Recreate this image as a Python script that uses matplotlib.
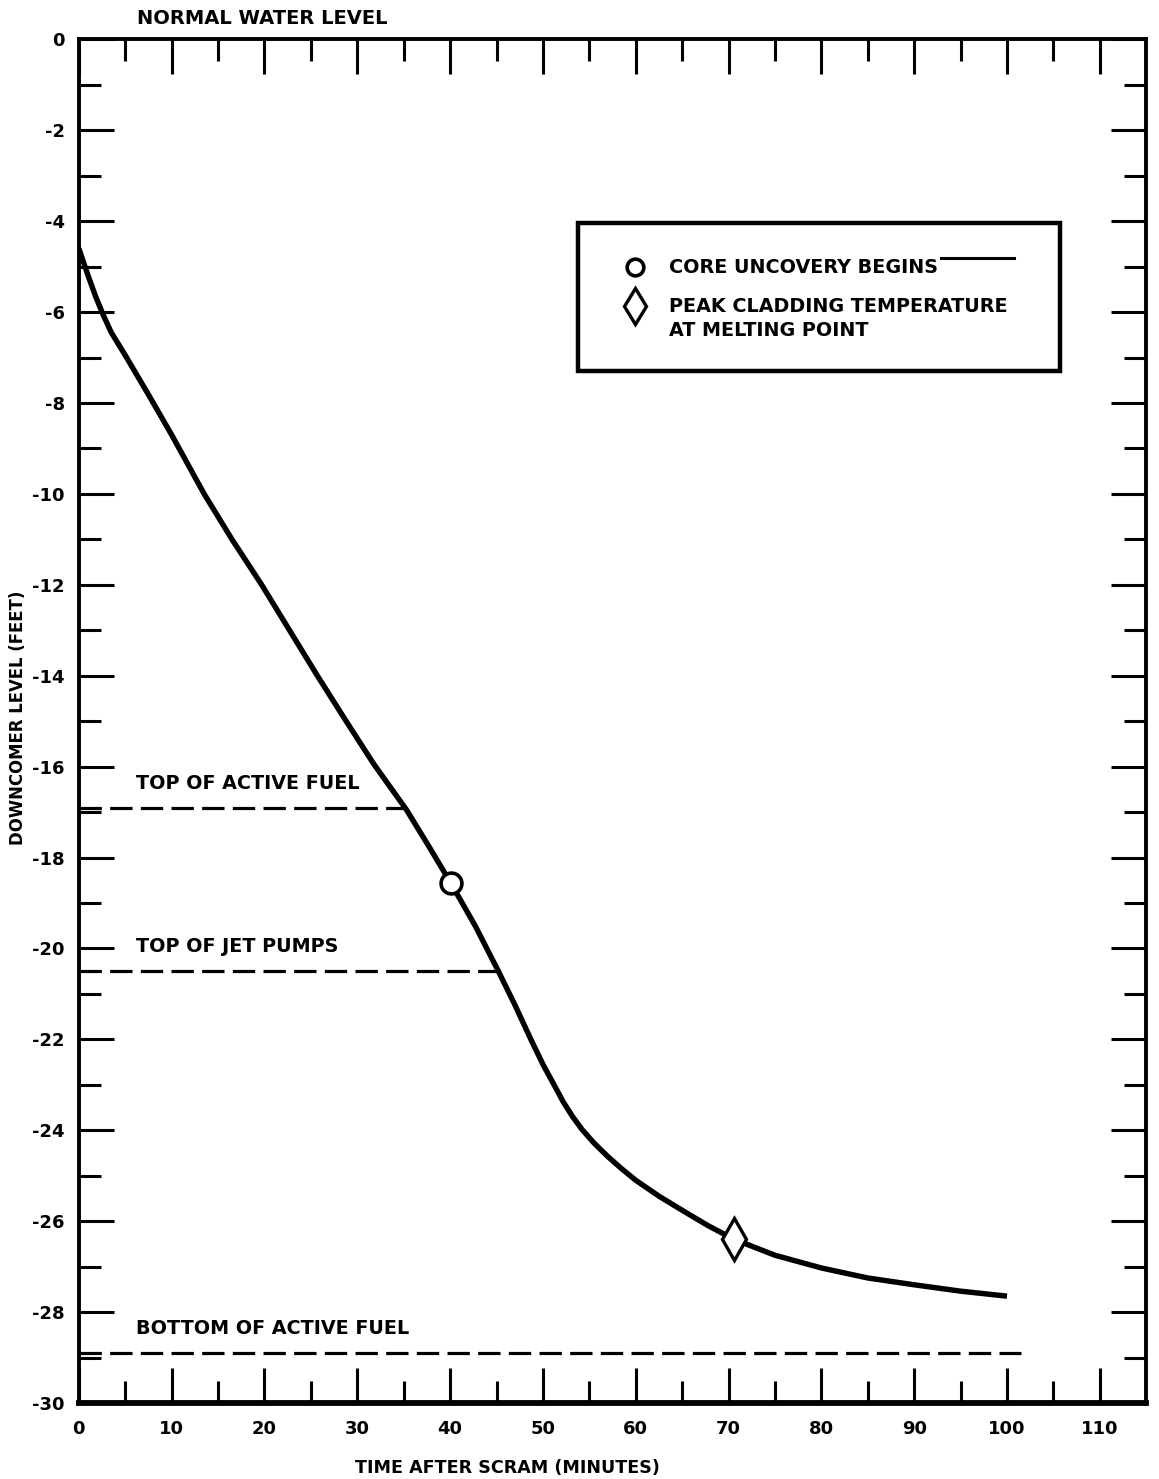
import matplotlib
matplotlib.use('Agg')
import matplotlib.pyplot as plt
from matplotlib.patches import Rectangle
import numpy as np

font = {'family': 'DejaVu Sans',
        'weight': 'bold',
        'size': 13}
matplotlib.rc("font", **font)

# downcomer level curve
time_min = [0, 0.5, 1, 1.8, 2.6, 3.5, 5, 6.3, 7.6, 10, 13.5, 16.5, 19.7, 22.7, 25.7,
            28.8, 31.8, 35.3, 37.7, 40.1, 42.7, 45.2, 47, 48.7, 50, 51.2, 52.2, 53.2,
            54.2, 55.5, 57, 58.5, 60, 62.5, 65, 67.8, 70.6, 75, 80, 85, 90, 95, 100]
level_ft = [-4.6, -4.9, -5.2, -5.65, -6.05, -6.45, -6.95, -7.4, -7.85, -8.7, -10.0,
            -11.0, -12.0, -13.0, -14.0, -15.0, -15.95, -16.95, -17.75, -18.57, -19.5,
            -20.5, -21.25, -22.0, -22.55, -23.0, -23.38, -23.7, -23.98, -24.28,
            -24.58, -24.85, -25.1, -25.45, -25.76, -26.1, -26.4, -26.75, -27.03,
            -27.25, -27.4, -27.54, -27.65]

core_uncovery = (40.1, -18.57)
peak_clad = (70.6, -26.4)

# reference levels: name, level, end time
ref_names = ['TOP OF ACTIVE FUEL', 'TOP OF JET PUMPS', 'BOTTOM OF ACTIVE FUEL']
ref_levels = [-16.92, -20.5, -28.9]
ref_ends = [35.4, 45.3, 101.5]

xticks = np.arange(0, 111, 10)
yticks = np.arange(0, -31, -2)

fig = plt.figure(figsize=(11.59, 14.79), dpi=100)
ax = fig.add_axes([0.068, 0.0514, 0.921, 0.922])

ax.plot(time_min, level_ft, color='k', lw=3.9, solid_joinstyle='round',
        solid_capstyle='butt', zorder=3)
ax.plot(*core_uncovery, marker='o', ms=15, mfc='white', mec='k', mew=2.6, zorder=4)
ax.plot(*peak_clad, marker='d', ms=21, mfc='white', mec='k', mew=2.4, zorder=4)

for name, lev, end in zip(ref_names, ref_levels, ref_ends):
    ax.plot([0, end], [lev, lev], color='k', lw=2.3, dashes=(7, 2.6), zorder=2)
    ax.text(6.2, lev + 0.42, name, fontsize=13.8, fontweight='bold',
            ha='left', va='baseline')

ax.text(6.3, 0.45, 'NORMAL WATER LEVEL', fontsize=14, fontweight='bold',
        ha='left', va='center', clip_on=False)

# legend box
ax.add_patch(Rectangle((53.8, -7.3), 51.9, 3.26, fill=False, lw=3.2,
                       ec='k', zorder=5))
ax.plot(59.9, -5.01, marker='o', ms=12, mfc='white', mec='k', mew=2.6, zorder=6)
ax.plot(59.9, -5.87, marker='d', ms=18, mfc='white', mec='k', mew=2.4, zorder=6)
ax.plot([92.9, 100.8], [-4.81, -4.81], color='k', lw=2.2, zorder=6)
ax.text(63.6, -5.01, 'CORE UNCOVERY BEGINS', fontsize=13.8, va='center', zorder=6)
ax.text(63.6, -5.87, 'PEAK CLADDING TEMPERATURE', fontsize=13.8, va='center', zorder=6)
ax.text(63.6, -6.4, 'AT MELTING POINT', fontsize=13.8, va='center', zorder=6)

ax.set_xlim(0, 115)
ax.set_ylim(-30, 0)
ax.set_xticks(xticks)
ax.set_xticks(np.arange(5, 111, 10), minor=True)
ax.set_yticks(yticks)
ax.set_yticks(np.arange(-1, -30, -2), minor=True)
ax.set_xticklabels([str(v) for v in xticks])
ax.set_yticklabels([str(v) for v in yticks])

ax.tick_params(which='major', direction='in', length=25, width=2.2,
               top=True, right=True, labelsize=13, pad=12)
ax.tick_params(which='minor', direction='in', length=16, width=2.2,
               top=True, right=True)
ax.tick_params(axis='y', which='major', pad=10)

for side in ['left', 'right', 'top']:
    ax.spines[side].set_linewidth(2.8)
ax.spines['bottom'].set_linewidth(4.2)

fig.text(0.438, 0.0074, 'TIME AFTER SCRAM (MINUTES)', fontsize=12.6,
         ha='center', va='center')
fig.text(0.0155, 0.5145, 'DOWNCOMER LEVEL (FEET)', fontsize=11.9,
         rotation=90, ha='center', va='center')

plt.savefig('out.png', dpi=100)
